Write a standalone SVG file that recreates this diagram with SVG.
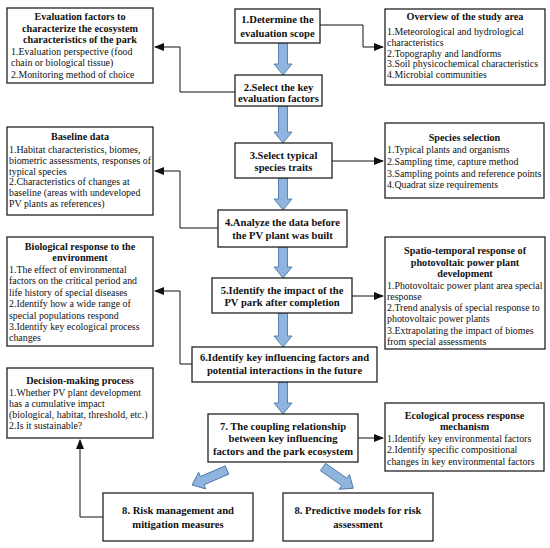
<svg xmlns="http://www.w3.org/2000/svg" width="550" height="548" viewBox="0 0 550 548">
<style>
text{font-family:"Liberation Serif","Times New Roman",serif;fill:#111}
.c{font-size:10.6px;font-weight:bold;text-anchor:middle}
.t{font-size:10.2px;font-weight:bold;text-anchor:middle}
.s{font-size:9.9px}
.box{fill:#fff;stroke:#222;stroke-width:1.3}
.ln{fill:none;stroke:#111;stroke-width:1}
.ba{fill:#8fb4dd;stroke:#3f6f9f;stroke-width:0.8}
</style>
<defs>
<marker id="ah" markerUnits="userSpaceOnUse" markerWidth="10" markerHeight="8" refX="9" refY="4" orient="auto">
<path d="M0,0 L10,4 L0,8 Z" fill="#111"/>
</marker>
</defs>
<rect width="550" height="548" fill="#fff"/>

<g id="connectors">
<path class="ln" d="M235,92 H180 V47 H155" marker-end="url(#ah)"/>
<path class="ln" d="M320,25 H363 V47 H383" marker-end="url(#ah)"/>
<path class="ln" d="M218,228 H180 V171 H155" marker-end="url(#ah)"/>
<path class="ln" d="M332,161 H383" marker-end="url(#ah)"/>
<path class="ln" d="M192,364 H180 V291 H155" marker-end="url(#ah)"/>
<path class="ln" d="M352,296 H383" marker-end="url(#ah)"/>
<path class="ln" d="M103,517 H80 V440" marker-end="url(#ah)"/>
<path class="ln" d="M358,438 H383" marker-end="url(#ah)"/>
<path class="ba" d="M278.5,43 V64 H274 L283,75 L292,64 H287.5 V43 Z"/>
<path class="ba" d="M278.5,106 V132 H274 L283,143 L292,132 H287.5 V106 Z"/>
<path class="ba" d="M278.5,178 V199 H274 L283,210 L292,199 H287.5 V178 Z"/>
<path class="ba" d="M278.5,247 V267 H274 L283,278 L292,267 H287.5 V247 Z"/>
<path class="ba" d="M278.5,313 V336 H274 L283,347 L292,336 H287.5 V313 Z"/>
<path class="ba" d="M278.5,382 V403 H274 L283,414 L292,403 H287.5 V382 Z"/>
<path class="ba" transform="translate(227,470) rotate(156.8)" d="M0,-4.5 H27 V-9 L38,0 L27,9 V4.5 H0 Z"/>
<path class="ba" transform="translate(323,467) rotate(35)" d="M0,-4.5 H26 V-9 L37,0 L26,9 V4.5 H0 Z"/>
</g>

<g id="n1">
<rect class="box" x="235" y="9" width="85" height="34"/>
<text class="c" x="277.5" y="22.5">1.Determine the</text>
<text class="c" x="277.5" y="36.5">evaluation scope</text>
</g>
<g id="n2">
<rect class="box" x="235" y="75" width="87" height="31"/>
<text class="c" x="278.5" y="90.5">2.Select the key</text>
<text class="c" x="278.5" y="102.3">evaluation factors</text>
</g>
<g id="n3">
<rect class="box" x="235" y="143" width="97" height="35"/>
<text class="c" x="283.5" y="158.5">3.Select typical</text>
<text class="c" x="283.5" y="170.8">species traits</text>
</g>
<g id="n4">
<rect class="box" x="218" y="210" width="129" height="37"/>
<text class="c" x="282.5" y="226.2">4.Analyze the data before</text>
<text class="c" x="282.5" y="238.5">the PV plant was built</text>
</g>
<g id="n5">
<rect class="box" x="212" y="278" width="140" height="35"/>
<text class="c" x="282" y="293.5">5.Identify the impact of the</text>
<text class="c" x="282" y="306.2">PV park after completion</text>
</g>
<g id="n6">
<rect class="box" x="192" y="347" width="185" height="35"/>
<text class="c" x="284.5" y="360.8">6.Identify key influencing factors and</text>
<text class="c" x="284.5" y="374.2">potential interactions in the future</text>
</g>
<g id="n7">
<rect class="box" x="208" y="414" width="150" height="48"/>
<text class="c" x="283" y="429.5">7. The coupling relationship</text>
<text class="c" x="283" y="442">between key influencing</text>
<text class="c" x="283" y="454.5">factors and the park ecosystem</text>
</g>
<g id="n8a">
<rect class="box" x="103" y="493" width="150" height="48"/>
<text class="c" x="178" y="513.5">8. Risk management and</text>
<text class="c" x="178" y="527.5">mitigation measures</text>
</g>
<g id="n8b">
<rect class="box" x="283" y="493" width="150" height="48"/>
<text class="c" x="358" y="513.5">8. Predictive models for risk</text>
<text class="c" x="358" y="527.5">assessment</text>
</g>

<g id="eval-factors">
<rect class="box" x="7" y="8" width="146" height="75"/>
<text class="t" x="80" y="20.2">Evaluation factors to</text>
<text class="t" x="80" y="31.7">characterize the ecosystem</text>
<text class="t" x="80" y="43.2">characteristics of the park</text>
<text class="s" x="11" y="54.7">1.Evaluation perspective (food</text>
<text class="s" x="11" y="66.2">chain or biological tissue)</text>
<text class="s" x="11" y="77.7">2.Monitoring method of choice</text>
</g>
<g id="overview">
<rect class="box" x="385" y="9" width="160" height="76"/>
<text class="t" x="465" y="19.5">Overview of the study area</text>
<text class="s" x="387" y="35">1.Meteorological and hydrological</text>
<text class="s" x="387" y="46">characteristics</text>
<text class="s" x="387" y="56.5">2.Topography and landforms</text>
<text class="s" x="387" y="67">3.Soil physicochemical characteristics</text>
<text class="s" x="387" y="78">4.Microbial communities</text>
</g>
<g id="baseline">
<rect class="box" x="7" y="127" width="146" height="88"/>
<text class="t" x="80" y="139.5">Baseline data</text>
<text class="s" x="9" y="152.8">1.Habitat characteristics, biomes,</text>
<text class="s" x="9" y="163.5">biometric assessments, responses of</text>
<text class="s" x="9" y="174.5">typical species</text>
<text class="s" x="9" y="185.2">2.Characteristics of changes at</text>
<text class="s" x="9" y="196.2">baseline (areas with undeveloped</text>
<text class="s" x="9" y="206.8">PV plants as references)</text>
</g>
<g id="species">
<rect class="box" x="385" y="123" width="159" height="75"/>
<text class="t" x="464.5" y="140.8">Species selection</text>
<text class="s" x="387" y="152.8">1.Typical plants and organisms</text>
<text class="s" x="387" y="165">2.Sampling time, capture method</text>
<text class="s" x="387" y="176.8">3.Sampling points and reference points</text>
<text class="s" x="387" y="187.8">4.Quadrat size requirements</text>
</g>
<g id="bio-response">
<rect class="box" x="7" y="237" width="146" height="109"/>
<text class="t" x="80" y="249.5">Biological response to the</text>
<text class="t" x="80" y="260.8">environment</text>
<text class="s" x="9" y="272.5">1.The effect of environmental</text>
<text class="s" x="9" y="283.8">factors on the critical period and</text>
<text class="s" x="9" y="295.5">life history of special diseases</text>
<text class="s" x="9" y="306.8">2.Identify how a wide range of</text>
<text class="s" x="9" y="318.5">special populations respond</text>
<text class="s" x="9" y="330">3.Identify key ecological process</text>
<text class="s" x="9" y="340.8">changes</text>
</g>
<g id="spatio">
<rect class="box" x="385" y="237" width="160" height="112"/>
<text class="t" x="465" y="254.2">Spatio-temporal response of</text>
<text class="t" x="465" y="265.8">photovoltaic power plant</text>
<text class="t" x="465" y="276.8">development</text>
<text class="s" x="387" y="288.5">1.Photovoltaic power plant area special</text>
<text class="s" x="387" y="300">response</text>
<text class="s" x="387" y="310.8">2.Trend analysis of special response to</text>
<text class="s" x="387" y="322.3">photovoltaic power plants</text>
<text class="s" x="387" y="333.5">3.Extrapolating the impact of biomes</text>
<text class="s" x="387" y="345">from special assessments</text>
</g>
<g id="decision">
<rect class="box" x="7" y="368" width="146" height="70"/>
<text class="t" x="80" y="384">Decision-making process</text>
<text class="s" x="9" y="395.5">1.Whether PV plant development</text>
<text class="s" x="9" y="406.5">has a cumulative impact</text>
<text class="s" x="9" y="417.5">(biological, habitat, threshold, etc.)</text>
<text class="s" x="9" y="429">2.Is it sustainable?</text>
</g>
<g id="eco-process">
<rect class="box" x="385" y="403" width="159" height="68"/>
<text class="t" x="464.5" y="419">Ecological process response</text>
<text class="t" x="464.5" y="430">mechanism</text>
<text class="s" x="387" y="441.8">1.Identify key environmental factors</text>
<text class="s" x="387" y="452.8">2.Identify specific compositional</text>
<text class="s" x="387" y="464.5">changes in key environmental factors</text>
</g>
</svg>
